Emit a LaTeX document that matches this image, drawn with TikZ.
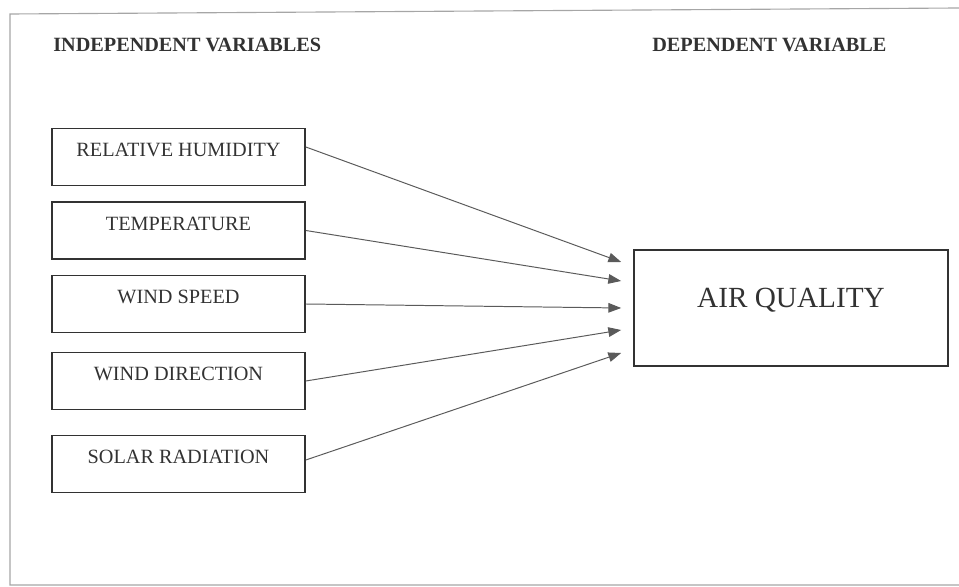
\documentclass[tikz,border=0pt]{standalone}
\usepackage{fontspec}
\setmainfont{Liberation Serif}
\definecolor{inkgray}{RGB}{50, 50, 50}
\definecolor{linegray}{RGB}{90, 90, 90}
\usepackage{tikz}
\usetikzlibrary{arrows.meta, positioning, calc}

\begin{document}
\begin{tikzpicture}[
        varbox/.style={draw=inkgray, line width=1.2pt, minimum width=6.325cm, inner xsep=0pt, inner ysep=0pt,
            text height=0.71cm, text depth=0.71cm, align=center, text=inkgray,
            font=\fontsize{14.4}{17}\selectfont},
        header/.style={anchor=base west, text=inkgray, inner sep=0pt, font=\fontsize{14.4}{17}\selectfont\bfseries},
        arrow/.style={-{Triangle[length=0.32cm, width=0.24cm]}, draw=linegray, line width=0.7pt},
        frame/.style={draw=gray!70, line width=0.8pt}
    ]
        \useasboundingbox (0,0) rectangle (23.975,-14.675);

        % Page frame (right side runs off the page)
        \draw[frame] (23.975,-0.2) -- (0.25,-0.35) -- (0.25,-14.625) -- (23.975,-14.625);

        % Column headings
        \node[header] (indep) at (1.325,-1.3) {INDEPENDENT VARIABLES};
        \node[header] (dep) at (16.3,-1.3) {DEPENDENT VARIABLE};

        % Left column: independent variables
        \node[varbox] (hum) at (4.4625,-3.925) {RELATIVE HUMIDITY};
        \node[varbox] (temp) at (4.4625,-5.7625) {TEMPERATURE};
        \node[varbox] (wspeed) at (4.4625,-7.6) {WIND SPEED};
        \node[varbox] (wdir) at (4.4625,-9.525) {WIND DIRECTION};
        \node[varbox] (solar) at (4.4625,-11.6) {SOLAR RADIATION};

        % Right: dependent variable
        \node[varbox, minimum width=7.85cm, text height=1.45cm, text depth=1.45cm,
            font=\fontsize{20.8}{24}\selectfont] (aq) at (19.775,-7.7) {AIR QUALITY};

        % Arrows into the dependent variable
        \draw[arrow] ([yshift=0.25cm]hum.east) -- ([xshift=-0.3cm, yshift=1.15cm]aq.west);
        \draw[arrow] (temp.east) -- ([xshift=-0.3cm, yshift=0.675cm]aq.west);
        \draw[arrow] (wspeed.east) -- ([xshift=-0.3cm]aq.west);
        \draw[arrow] (wdir.east) -- ([xshift=-0.3cm, yshift=-0.55cm]aq.west);
        \draw[arrow] ([yshift=0.1cm]solar.east) -- ([xshift=-0.3cm, yshift=-1.125cm]aq.west);
    \end{tikzpicture}
\end{document}
